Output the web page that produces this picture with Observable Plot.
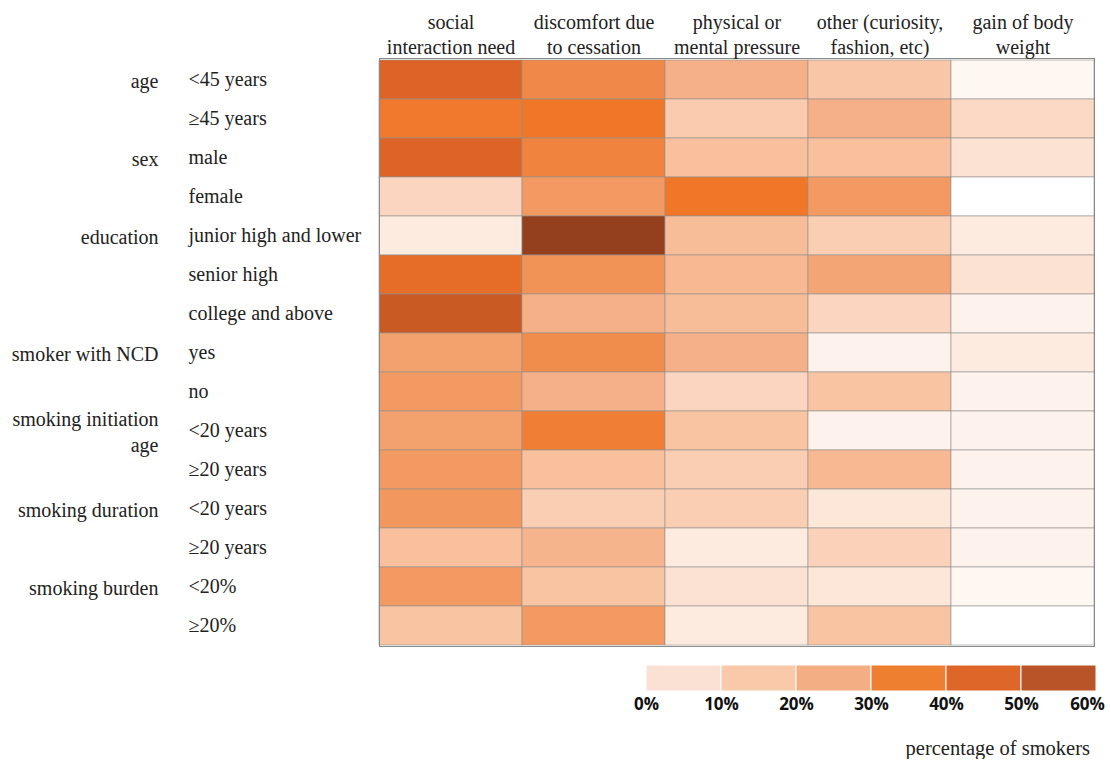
<!DOCTYPE html>
<html>
<head>
<meta charset="utf-8">
<script src="https://cdn.jsdelivr.net/npm/d3@7"></script>
<script src="https://cdn.jsdelivr.net/npm/@observablehq/plot@0.6"></script>
<style>
  body { margin: 0; background: #fff; }
  #chart svg, #chart svg text { font-family: "Liberation Serif", "Times New Roman", serif !important; }
  #legend svg text { font-weight: bold; font-family: "Open Sans", sans-serif !important; }
  #caption { font-family: "Liberation Serif", serif; font-size: 20.5px; color: #222; text-align: right; padding-right: 21px; margin-top: 16px; line-height: 22px; }
</style>
</head>
<body>
<div id="chart"></div>
<div id="legend"></div>
<div id="caption">percentage of smokers</div>
<script>
// ---- data ----
const causes = [
  "social\ninteraction need",
  "discomfort due\nto cessation",
  "physical or\nmental pressure",
  "other (curiosity,\nfashion, etc)",
  "gain of body\nweight"
];
const groupLabels = ["age", "", "sex", "", "education", "", "", "smoker with NCD", "", "smoking initiation\nage", "", "smoking duration", "", "smoking burden", ""];
const subLabels = ["<45 years", "≥45 years", "male", "female", "junior high and lower", "senior high", "college and above", "yes", "no", "<20 years", "≥20 years", "<20 years", "≥20 years", "<20%", "≥20%"];

const socialInteraction = [48, 38, 48, 10, 5, 44, 52, 24, 26, 24, 26, 27, 16, 26, 15];
const discomfortCessation = [31, 40, 33, 26, 60, 28, 20, 30, 20, 35, 16, 12, 19, 15, 26];
const physicalMental = [20, 13, 16, 40, 17, 18, 17, 20, 10, 15, 12, 12, 5, 7, 5];
const otherCuriosity = [14, 20, 16, 26, 12, 23, 10, 3, 15, 3, 18, 6, 11, 6, 15];
const gainBodyWeight = [2, 9, 7, 0, 5, 7, 3, 5, 3, 3, 3, 3, 3, 2, 0];

const seriesValues = [socialInteraction, discomfortCessation, physicalMental, otherCuriosity, gainBodyWeight];

const legendTicks = [0, 10, 20, 30, 40, 50, 60];
const legendBins = [0, 10, 20, 30, 40, 50];
const legendColors = ["#fbe1d3", "#f9c9a9", "#f4ae84", "#ee7f30", "#dd6628", "#b85428"];

// ---- tables ----
const rows = subLabels.map((s, i) => ({i, group: groupLabels[i], sub: s}));
const cells = [];
causes.forEach((c, ci) => seriesValues[ci].forEach((v, i) => cells.push({cause: c, i, value: v})));

const colorDomain = [0, 5, 10, 15, 20, 25, 30, 35, 40, 50, 60];
const colorRange = ["#ffffff", "#fdebdf", "#fbd5bf", "#f9c4a2", "#f5b088", "#f39e68", "#f08c4c", "#f07e34", "#f07628", "#d86026", "#94401e"];

const serif = "Liberation Serif";

const chart = Plot.plot({
  width: 1111,
  height: 655,
  marginLeft: 379,
  marginRight: 17,
  marginTop: 58,
  marginBottom: 9,
  style: {fontSize: "20px", fontFamily: serif, color: "#222"},
  x: {domain: causes, padding: 0, axis: null},
  y: {domain: d3.range(subLabels.length), padding: 0, axis: null},
  color: {type: "linear", domain: colorDomain, range: colorRange, interpolate: "rgb"},
  marks: [
    Plot.cell(cells, {x: "cause", y: "i", fill: "value", stroke: "#8f8f8f", strokeWidth: 0.6, inset: 0}),
    Plot.frame({stroke: "#8a8a8a", strokeWidth: 1}),
    Plot.axisX({anchor: "top", label: null, tickSize: 0, tickPadding: 5, fontSize: 20, fontFamily: serif, lineHeight: 1.25, fill: "#222"}),
    Plot.text(rows, {y: "i", text: "group", frameAnchor: "left", dx: -221, textAnchor: "end", fontSize: 20, fontFamily: serif, fill: "#222", lineHeight: 1.3}),
    Plot.text(rows, {y: "i", text: "sub", frameAnchor: "left", dx: -191, textAnchor: "start", fontSize: 20, fontFamily: serif, fill: "#222"})
  ]
});
document.getElementById("chart").appendChild(chart);

const legend = Plot.plot({
  width: 1111,
  height: 66,
  marginLeft: 646,
  marginRight: 15,
  marginTop: 10,
  marginBottom: 30,
  style: {fontSize: "17px", fontFamily: "Open Sans, sans-serif", color: "#222"},
  x: {domain: [0, 60], axis: null},
  y: {axis: null, domain: [0, 1]},
  marks: [
    Plot.rectY(legendBins, {x1: d => d, x2: d => d + 10, y1: 0, y2: 1, fill: (d, i) => legendColors[i], stroke: "#fff", strokeWidth: 1}),
    Plot.text(legendTicks.slice(0, -1), {x: d => d, text: d => d + "%", frameAnchor: "bottom", dy: 18, fontSize: 17, fontWeight: "bold", fill: "#111"}),
    Plot.text(legendTicks.slice(-1), {x: d => d, text: d => d + "%", frameAnchor: "bottom", dy: 18, dx: -9, fontSize: 17, fontWeight: "bold", fill: "#111"})
  ]
});
document.getElementById("legend").appendChild(legend);
</script>
</body>
</html>
